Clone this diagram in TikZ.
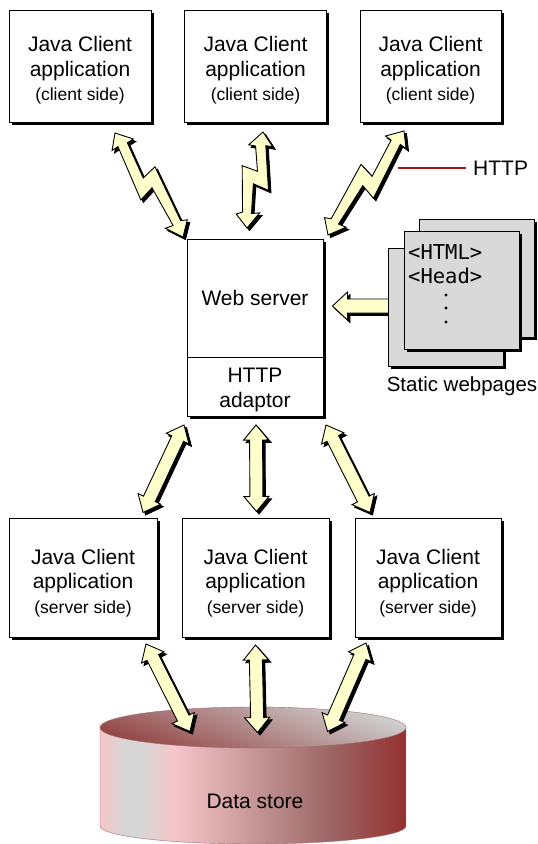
\documentclass[tikz,border=0pt]{standalone}
\usepackage{fontspec}
\setmainfont{Liberation Sans}
\newfontfamily\pagefont{DejaVu Sans Mono}
\usetikzlibrary{calc,positioning}
\definecolor{arrowyellow}{HTML}{FFFFCC}
\definecolor{pagegrey}{HTML}{D9D9D9}
\definecolor{httpred}{HTML}{A01515}
\definecolor{rimred}{HTML}{A86A6A}
\definecolor{sidepink}{HTML}{F6C6CA}
\definecolor{sidegrey}{HTML}{D6D6D6}
\definecolor{sidemid}{HTML}{B88888}
\definecolor{sidedark}{HTML}{9C6464}
\definecolor{sidered}{HTML}{943030}
\definecolor{topgrey}{HTML}{D0D0D0}
\definecolor{topred}{HTML}{944646}
\pgfdeclarehorizontalshading{sidefade}{100bp}{color(0bp)=(sidepink);color(25bp)=(sidepink);color(29bp)=(sidegrey);color(32bp)=(sidegrey);color(37bp)=(sidepink);color(54bp)=(sidemid);color(63bp)=(sidedark);color(75bp)=(sidered);color(100bp)=(sidered)}
\tikzset{
  boxed/.style={draw,line width=1pt,fill=white,inner sep=0pt,outer sep=0pt},
  clientbox/.style={boxed,minimum width=#1,minimum height=112pt},
  serverbox/.style={boxed,minimum width=#1,minimum height=119pt},
  boxtext/.style={align=center,font=\fontsize{21}{24.5}\selectfont,yshift=-4.5pt},
  shadowedge/.style={draw=black,line width=2.5pt},
  webpage/.style={boxed,fill=pagegrey,minimum width=115pt,minimum height=118pt},
  pagetext/.style={font=\pagefont\fontsize{20.5}{24}\selectfont,anchor=west,inner sep=0pt},
  pagedot/.style={circle,fill=black,inner sep=0pt,minimum size=3.2pt},
  plaintext/.style={font=\fontsize{21}{24.5}\selectfont,inner sep=0pt},
  arrowbody/.style={draw=black,line width=0.9pt,line join=miter,fill=arrowyellow},
  arrowshadow/.style={draw=black,fill=black,line width=0.9pt,shift={(2.5pt,-2.5pt)}}
}
% black edge on the right and the bottom of a box
\newcommand{\boxshadow}[1]{\draw[shadowedge] ($(#1.north east)+(1.5,2.5)$) -- ($(#1.south east)+(1.5,1.5)$) -- ($(#1.south west)+(2.5,1.5)$);}
% length and angle between two named points
\newcommand{\getaxis}[2]{\path let \p1=(#1),\p2=(#2) in \pgfextra{%
  \pgfmathsetmacro\tmpang{atan2(\y2-\y1,\x2-\x1)}\pgfmathsetmacro\tmplen{veclen(\x2-\x1,\y2-\y1)}%
  \xdef\axisang{\tmpang}\xdef\axislen{\tmplen}};}
\newcommand{\straightshape}[2]{%
  \begin{scope}[shift={(#2)},#1,rotate=\axisang,x=1pt,y=1pt]
    \path[draw,fill] (0,0) -- (15,-12.5) -- (15,-6.5) -- ({\axislen-15},-6.5) -- ({\axislen-15},-12.5) -- (\axislen,0)
      -- ({\axislen-15},12.5) -- ({\axislen-15},6.5) -- (15,6.5) -- (15,12.5) -- cycle;
  \end{scope}}
\newcommand{\tailshape}[2]{%
  \begin{scope}[shift={(#2)},#1,rotate=\axisang,x=1pt,y=1pt]
    \path[draw,fill] (0,0) -- (15,-14) -- (15,-7) -- (\axislen,-7) -- (\axislen,7) -- (15,7) -- (15,14) -- cycle;
  \end{scope}}
\newcommand{\boltshape}[3]{%
  \pgfmathsetmacro\mm{\axislen/2}
  \begin{scope}[shift={(#3)},#1,rotate=\axisang,x=1pt,y=#2pt]
    \path[draw,fill] (0,0) -- (15,-12) -- (15,-5) -- ({\mm-9},1) -- ({\mm-12},-15) -- ({\axislen-15},-7)
      -- ({\axislen-12},-13) -- (\axislen,0) -- ({\axislen-17},10) -- ({\axislen-15},2)
      -- ({\mm+4},-1) -- ({\mm+8},15) -- (13,5) -- (13,12) -- cycle;
  \end{scope}}
\newcommand{\blockarrow}[2]{%
  \getaxis{#1}{#2}
  \straightshape{arrowshadow}{#1}
  \straightshape{arrowbody}{#1}}
\newcommand{\tailarrow}[2]{%
  \getaxis{#1}{#2}
  \tailshape{arrowshadow}{#1}
  \tailshape{arrowbody}{#1}}
\newcommand{\boltarrow}[3]{%
  \getaxis{#2}{#3}
  \boltshape{arrowshadow}{#1}{#2}
  \boltshape{arrowbody}{#1}{#2}}
\begin{document}
\begin{tikzpicture}[x=1pt,y=-1pt]
  \useasboundingbox (0,0) rectangle (538,844);

  % data store
  \shade[shading=sidefade,draw=rimred] (100,727) -- (100,826) arc[start angle=180,end angle=360,x radius=153pt,y radius=18pt] -- (406,727) -- cycle;
  \shade[draw=rimred,top color=topgrey,bottom color=topred,shading angle=-20] (253,727.5) ellipse[x radius=153pt,y radius=20.5pt];
  \node[plaintext] (store) at (255,801) {Data store};

  % clients
  \foreach \n/\x/\w in {1/80/142,2/255.5/142,3/430.5/141} {
    \node[clientbox=\w pt,label={[boxtext]center:{Java Client\\application\\{\fontsize{17.5}{24.5}\selectfont (client side)}}}] (client\n) at (\x,66) {};
    \boxshadow{client\n}
  }
  \foreach \n/\x/\w in {1/83/148,2/255.5/147,3/428/146} {
    \node[serverbox=\w pt,label={[boxtext,yshift=-0.5pt]center:{Java Client\\application\\{\fontsize{17.5}{24.5}\selectfont (server side)}}}] (server\n) at (\x,578) {};
    \boxshadow{server\n}
  }

  % web server
  \node[boxed,minimum width=136pt,minimum height=118pt,font=\fontsize{21}{24.5}\selectfont,text depth=1pt] (web) at (255,298) {Web server};
  \boxshadow{web}
  \node[boxed,minimum width=136pt,minimum height=59pt,below=0pt of web,label={[boxtext,yshift=1pt]center:{HTTP\\adaptor}}] (adaptor) {};
  \boxshadow{adaptor}

  % static pages
  \coordinate (pagetip) at (332.5,306);
  \coordinate (pagesend) at (395,306);
  \tailarrow{pagetip}{pagesend}
  \node[webpage] (pageback) at (477,278) {};
  \boxshadow{pageback}
  \node[webpage] (pagelow) at (445.5,307) {};
  \boxshadow{pagelow}
  \node[webpage] (pagefront) at (461.5,290) {};
  \boxshadow{pagefront}
  \node[pagetext] (html) at (408,252) {<HTML>};
  \node[pagetext] (head) at (408,276) {<Head>};
  \foreach \n/\y in {1/295,2/308,3/322}
    \node[pagedot] (dot\n) at (446,\y) {};
  \node[plaintext,font=\fontsize{20.5}{24}\selectfont] (pageslabel) at (462,386.5) {Static webpages};

  % http legend
  \node[plaintext,anchor=west] (http) at (473,168) {HTTP};
  \coordinate (httpstart) at (398,168);
  \coordinate (httpend) at (466,168);
  \draw[httpred,line width=1.5pt] (httpstart) -- (httpend);

  % arrow ends
  \coordinate (a1) at (115,133);  \coordinate (b1) at (183,237);
  \coordinate (a2) at (263,132);  \coordinate (b2) at (247,228);
  \coordinate (a3) at (404,131);  \coordinate (b3) at (328,235);
  \coordinate (c1) at (184,425);  \coordinate (d1) at (143,512.5);
  \coordinate (c2) at (256,425);  \coordinate (d2) at (256.5,511.5);
  \coordinate (c3) at (326,425);  \coordinate (d3) at (370,512.5);
  \coordinate (e1) at (146,644);  \coordinate (f1) at (190,731.5);
  \coordinate (e2) at (255.5,645);  \coordinate (f2) at (257.5,732.5);
  \coordinate (e3) at (366,643);  \coordinate (f3) at (327.5,731.5);

  \boltarrow{-1}{a1}{b1}
  \boltarrow{1}{a2}{b2}
  \boltarrow{1}{a3}{b3}
  \foreach \from/\to in {c1/d1,c2/d2,c3/d3,e1/f1,e2/f2,e3/f3}
    {\blockarrow{\from}{\to}}
\end{tikzpicture}
\end{document}
